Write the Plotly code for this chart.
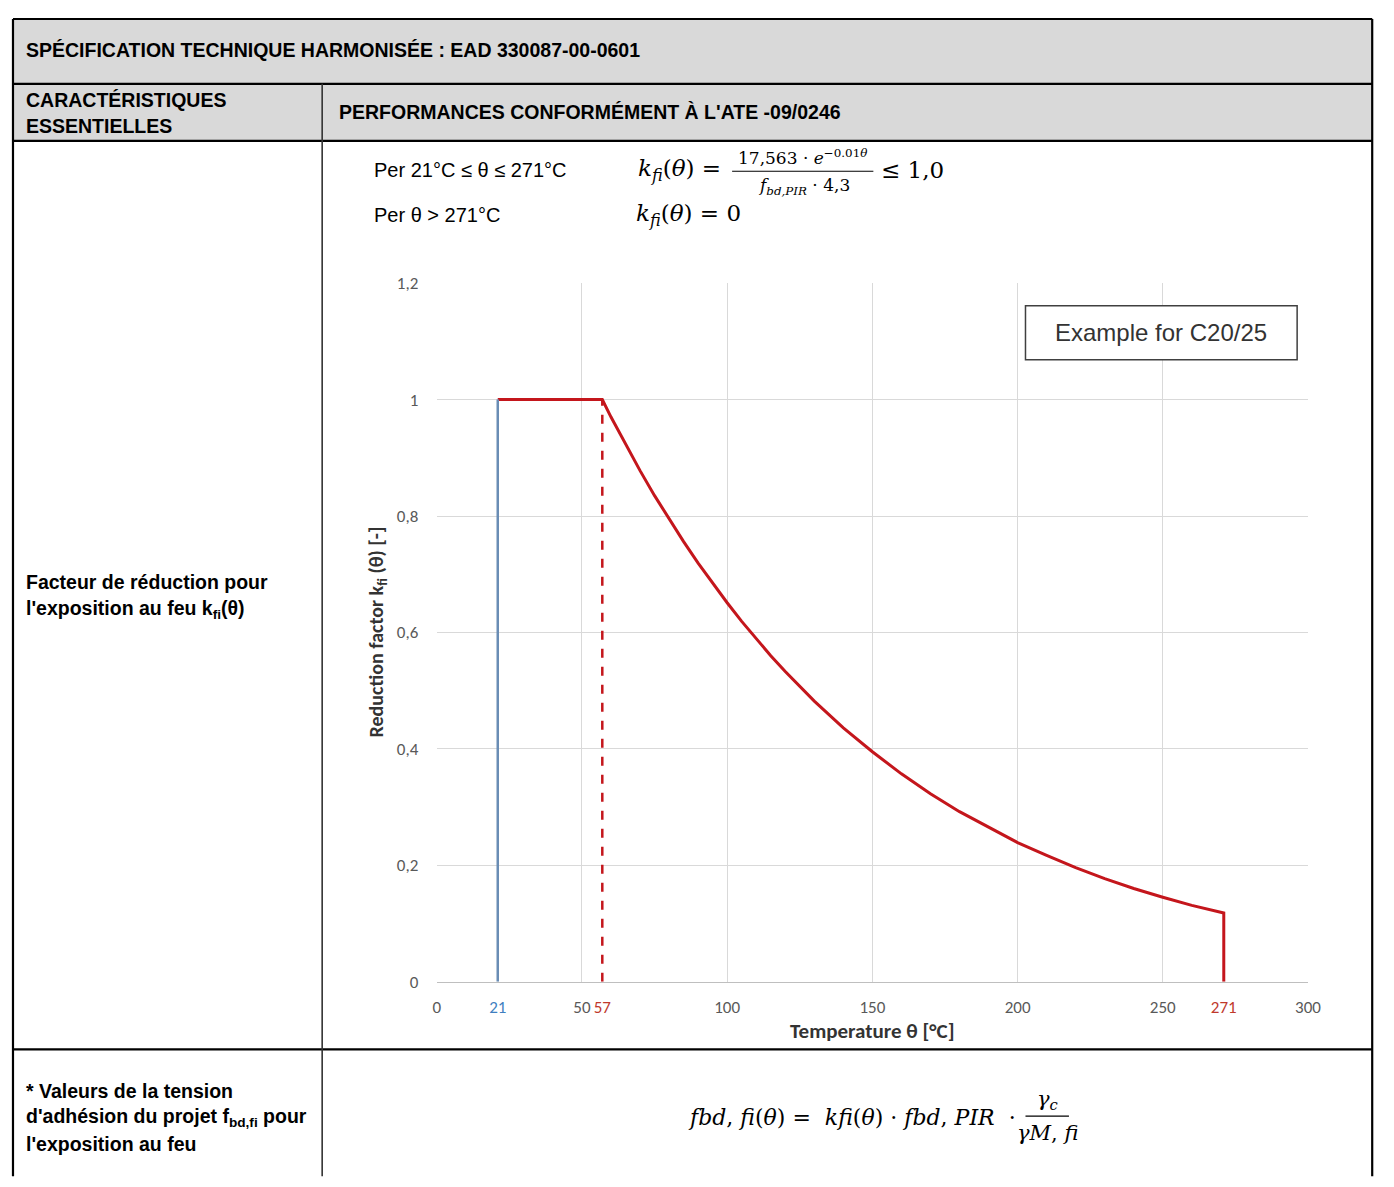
import plotly.graph_objects as go

# Figure fills the window; the page body adds an 8px margin, so every
# reference pixel position is shifted by OFF when converted to paper units.
OFF = 8
W, H = 1394, 1187

# ---------------- data ----------------
red_theta = [21, 57, 60, 65, 70, 75, 80, 85, 90, 95, 100, 105, 110, 115, 120,
             130, 140, 150, 160, 170, 180, 190, 200, 210, 220, 230, 240, 250,
             260, 271, 271]
red_k = [1.0, 1.0, 0.970, 0.923, 0.878, 0.835, 0.795, 0.756, 0.719, 0.684,
         0.651, 0.619, 0.589, 0.560, 0.533, 0.482, 0.436, 0.395, 0.357, 0.323,
         0.292, 0.265, 0.239, 0.217, 0.196, 0.177, 0.160, 0.145, 0.131, 0.118,
         0.0]
blue_theta = [21, 21]
blue_k = [0.0, 1.0]
dash_theta = [57, 57]
dash_k = [0.0, 1.0]

x_tickvals = [0, 50, 100, 150, 200, 250, 300]
x_ticktext = ["0", "50", "100", "150", "200", "250", "300"]
x_special_vals = [21, 57, 271]
x_special_text = ["21", "57", "271"]
x_special_colors = ["#3f7fbf", "#c0392b", "#c0392b"]
y_tickvals = [0, 0.2, 0.4, 0.6, 0.8, 1.0, 1.2]
y_ticktext = ["0", "0,2", "0,4", "0,6", "0,8", "1", "1,2"]

RED = "#c4161c"
BLUE = "#6a8db5"
GRID = "#d9d9d9"
TICKC = "#595959"
NARROW = "Liberation Sans Narrow, Arial Narrow, Liberation Sans, Arial"
SERIF = "DejaVu Serif, Liberation Serif, serif"
CHART = "Carlito, Lato, Open Sans, sans-serif"


def px(x):
    return min(max((x - OFF) / W, 0.0), 1.0)


def py(y):
    return min(max(1 - (y - OFF) / H, 0.0), 1.0)


fig = go.Figure()
fig.add_trace(go.Scatter(x=blue_theta, y=blue_k, mode="lines",
                         line=dict(color=BLUE, width=2.5), xaxis="x2",
                         hoverinfo="skip", showlegend=False))
fig.add_trace(go.Scatter(x=dash_theta, y=dash_k, mode="lines",
                         line=dict(color=RED, width=2.5, dash="dash"), xaxis="x2",
                         hoverinfo="skip", showlegend=False))
fig.add_trace(go.Scatter(x=red_theta, y=red_k, mode="lines",
                         line=dict(color=RED, width=3),
                         hoverinfo="skip", showlegend=False))

shapes = []
shapes.append(dict(type="rect", xref="paper", yref="paper", x0=px(9), x1=px(1385),
                   y0=py(133), y1=py(8), fillcolor="#d9d9d9", line=dict(width=0),
                   layer="below"))


def hline(y, x0, x1, w=2.2, c="black"):
    shapes.append(dict(type="line", xref="paper", yref="paper", x0=px(x0), x1=px(x1),
                       y0=py(y), y1=py(y), line=dict(color=c, width=w)))


def vline(x, y0, y1, w=2.2, c="black"):
    shapes.append(dict(type="line", xref="paper", yref="paper", x0=px(x), x1=px(x),
                       y0=py(y0), y1=py(y1), line=dict(color=c, width=w)))


hline(9, 9, 1385)
hline(75, 9, 1385)
hline(133, 9, 1385)
hline(1058, 9, 1385)
vline(9, 9, 1187)
vline(322, 75, 1187, w=1.6, c="#333333")
vline(1385, 9, 1187)

# fraction bars
hline(164, 737, 880, w=1.2)
hline(1126, 1034, 1078, w=1.2)

# example box
shapes.append(dict(type="rect", xref="paper", yref="paper", x0=px(1034), x1=px(1309),
                   y0=py(356), y1=py(301), fillcolor="white",
                   line=dict(color="#404040", width=1.5)))

ann = []


def text(x, y, t, size, family, color="black", xanchor="left", yanchor="middle",
         angle=0):
    ann.append(dict(xref="paper", yref="paper", x=px(x), y=py(y), text=t,
                    showarrow=False, xanchor=xanchor, yanchor=yanchor,
                    font=dict(size=size, family=family, color=color),
                    textangle=angle))


text(20, 41, "<b>SPÉCIFICATION TECHNIQUE HARMONISÉE : EAD 330087-00-0601</b>", 19.5, NARROW)
text(20, 91, "<b>CARACTÉRISTIQUES</b>", 19.5, NARROW)
text(20, 118, "<b>ESSENTIELLES</b>", 19.5, NARROW)
text(337, 104, "<b>PERFORMANCES CONFORMÉMENT À L'ATE -09/0246</b>", 19.5, NARROW)

text(20, 582, "<b>Facteur de réduction pour</b>", 19.5, NARROW)
text(20, 610, "<b>l'exposition au feu k<sub>fi</sub>(θ)</b>", 19.5, NARROW)

text(20, 1100, "<b>* Valeurs de la tension</b>", 19.5, NARROW)
text(20, 1127, "<b>d'adhésion du projet f<sub>bd,fi</sub> pour</b>", 19.5, NARROW)
text(20, 1154, "<b>l'exposition au feu</b>", 19.5, NARROW)

text(372, 163, "Per 21°C ≤ θ ≤ 271°C", 20, NARROW)
text(372, 209, "Per θ > 271°C", 20, NARROW)

text(735, 163, "<i>k</i><sub><i>fi</i></sub>(<i>θ</i>) = ", 23, SERIF, xanchor="right")
text(808, 149, "17,563 · <i>e</i><sup>−0.01<i>θ</i></sup>", 17, SERIF, xanchor="center")
text(810, 180, "<i>f</i><sub><i>bd,PIR</i></sub> · 4,3", 17, SERIF, xanchor="center")
text(886, 163, "≤ 1,0", 23, SERIF)
text(638, 209, "<i>k</i><sub><i>fi</i></sub>(<i>θ</i>) = 0", 23, SERIF)

text(1026, 1127, "<i>fbd</i>, <i>fi</i>(<i>θ</i>) =  <i>kfi</i>(<i>θ</i>) · <i>fbd</i>, <i>PIR</i>  ·",
     22, SERIF, xanchor="right")
text(1056, 1109, "<i>γ<sub>c</sub></i>", 21, SERIF, xanchor="center")
text(1056, 1143, "<i>γM</i>, <i>fi</i>", 21, SERIF, xanchor="center")

text(1171, 328, "Example for C20/25", 24, "Liberation Sans, Arial", color="#333333",
     xanchor="center")
text(879, 1039, "<b>Temperature θ [°C]</b>", 21, CHART, color="#333333", xanchor="center")
text(378, 633, "<b>Reduction factor k<sub>fi</sub> (θ) [-]</b>", 20, CHART, color="#333333",
     xanchor="center", angle=-90)

tickfont = dict(size=17, family=CHART, color=TICKC)
fig.update_layout(
    width=W, height=H, autosize=False,
    margin=dict(l=0, r=0, t=0, b=0),
    paper_bgcolor="white", plot_bgcolor="white",
    shapes=shapes, annotations=ann,
    xaxis=dict(domain=[px(438), px(1320)], range=[0, 300], tickvals=x_tickvals,
               ticktext=x_ticktext, showgrid=True, gridcolor=GRID, gridwidth=1,
               zeroline=False, showline=True, linecolor="#bfbfbf", linewidth=1,
               ticks="outside", ticklen=10, tickcolor="rgba(0,0,0,0)",
               tickfont=tickfont, anchor="y"),
    xaxis2=dict(domain=[px(438), px(1320)], range=[0, 300], overlaying="x",
                side="bottom", anchor="y", tickvals=x_special_vals,
                ticktext=[f"<span style='color:{c}'>{t}</span>"
                          for t, c in zip(x_special_text, x_special_colors)],
                showgrid=False, zeroline=False, showline=False,
                ticks="outside", ticklen=10, tickcolor="rgba(0,0,0,0)",
                tickfont=tickfont),
    yaxis=dict(domain=[py(989), py(278)], range=[0, 1.2], tickvals=y_tickvals,
               ticktext=y_ticktext, showgrid=True, gridcolor=GRID, gridwidth=1,
               zeroline=False, showline=False,
               ticks="outside", ticklen=14, tickcolor="rgba(0,0,0,0)",
               tickfont=tickfont),
)

fig.write_html("out.html", config={"displayModeBar": False})
